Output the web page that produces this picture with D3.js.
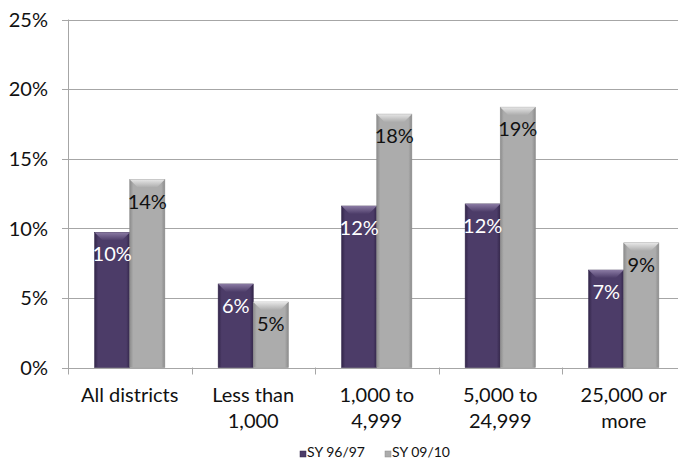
<!DOCTYPE html>
<html>
<head>
<meta charset="utf-8">
<script src="https://cdn.jsdelivr.net/npm/d3@7"></script>
<style>
  html, body { margin: 0; padding: 0; background: #fff; }
  svg { display: block; font-family: Lato, "DejaVu Sans", sans-serif; }
</style>
</head>
<body>
<div id="chart"></div>
<script>
// chart data
var categories = ['All districts', 'Less than\n1,000', '1,000 to\n4,999', '5,000 to\n24,999', '25,000 or\nmore'];
var seriesNames = ['SY 96/97', 'SY 09/10'];
var sy9697 = [9.7, 6.0, 11.6, 11.75, 7.0];
var sy0910 = [13.5, 4.7, 18.2, 18.7, 8.95];
var yTicks = [0, 5, 10, 15, 20, 25];

var width = 678;
var height = 464;

var svg = d3.select('#chart').append('svg')
    .attr('width', width)
    .attr('height', height);

// gradients for the bevelled bars
var defs = svg.append('defs');
var palettes = [
    {id: 'p', edge: '#33264a', mid: '#4c3c68', top: '#8a7aa3', label: '#ffffff'},
    {id: 'g', edge: '#8c8c8c', mid: '#acacac', top: '#e6e6e6', label: '#111111'}
];
palettes.forEach(function (p) {
    var side = defs.append('linearGradient').attr('id', 'side-' + p.id)
        .attr('x1', 0).attr('x2', 1).attr('y1', 0).attr('y2', 0);
    side.append('stop').attr('offset', '0%').attr('stop-color', p.edge);
    side.append('stop').attr('offset', '10%').attr('stop-color', p.mid);
    side.append('stop').attr('offset', '90%').attr('stop-color', p.mid);
    side.append('stop').attr('offset', '100%').attr('stop-color', p.edge);
    var top = defs.append('linearGradient').attr('id', 'top-' + p.id)
        .attr('x1', 0).attr('x2', 0).attr('y1', 0).attr('y2', 1);
    top.append('stop').attr('offset', '0%').attr('stop-color', p.top);
    top.append('stop').attr('offset', '100%').attr('stop-color', p.mid);
});

// scales
var x = d3.scaleBand()
    .domain(categories)
    .range([68, 685.5])
    .paddingInner(0)
    .paddingOuter(0);

var inner = d3.scaleBand()
    .domain(seriesNames)
    .range([0, x.bandwidth()])
    .paddingInner(0)
    .paddingOuter(0.76);

var y = d3.scaleLinear()
    .domain([0, 25])
    .range([367.5, 19.5]);

// gridlines
svg.append('g').selectAll('line')
    .data(yTicks)
    .enter()
    .append('line')
        .attr('x1', 62)
        .attr('x2', width)
        .attr('y1', (d) => Math.round(y(d)) + 0.5)
        .attr('y2', (d) => Math.round(y(d)) + 0.5)
        .attr('stroke', '#a6a6a6')
        .attr('stroke-width', 1);

// y axis labels
svg.append('g').selectAll('text')
    .data(yTicks)
    .enter()
    .append('text')
        .attr('x', 48)
        .attr('y', (d) => y(d))
        .attr('dy', '0.36em')
        .attr('text-anchor', 'end')
        .attr('font-size', '20px')
        .attr('fill', '#111')
        .text((d) => d + '%');

// y axis line
svg.append('line')
    .attr('x1', 68.5).attr('x2', 68.5)
    .attr('y1', y(25)).attr('y2', y(0) + 7)
    .attr('stroke', '#a6a6a6');

// category tick marks
svg.append('g').selectAll('line')
    .data(categories.slice(1))
    .enter()
    .append('line')
        .attr('x1', (d) => Math.round(x(d)) + 0.5)
        .attr('x2', (d) => Math.round(x(d)) + 0.5)
        .attr('y1', y(0))
        .attr('y2', y(0) + 7)
        .attr('stroke', '#a6a6a6');

// category labels
var catLabels = svg.append('g').selectAll('text')
    .data(categories)
    .enter()
    .append('text')
        .attr('x', (d) => x(d) + x.bandwidth() / 2)
        .attr('y', 402)
        .attr('text-anchor', 'middle')
        .attr('font-size', '20px')
        .attr('fill', '#111');
catLabels.each(function (d) {
    var lines = d.split('\n');
    var t = d3.select(this);
    lines.forEach(function (line, i) {
        t.append('tspan')
            .attr('x', x(d) + x.bandwidth() / 2)
            .attr('dy', i === 0 ? 0 : 26)
            .text(line);
    });
});

// bars, then value labels on top of all bars
var series = [sy9697, sy0910];
var bevel = 8;
var rowsFor = (si) => categories.map((c, i) => ({cat: c, value: series[si][i], s: si}));
var barLayer = svg.append('g');
var labelLayer = svg.append('g');

series.forEach(function (values, si) {
    var pal = palettes[si];
    var bar = barLayer.append('g').selectAll('g')
        .data(rowsFor(si))
        .enter()
        .append('g');

    bar.append('rect')
        .attr('x', (d) => x(d.cat) + inner(seriesNames[si]))
        .attr('y', (d) => y(d.value))
        .attr('width', inner.bandwidth())
        .attr('height', (d) => y(0) - y(d.value))
        .attr('fill', 'url(#side-' + pal.id + ')')
        .attr('stroke', pal.edge)
        .attr('stroke-width', 0.6);

    bar.append('polygon')
        .attr('points', function (d) {
            var x0 = x(d.cat) + inner(seriesNames[si]);
            var x1 = x0 + inner.bandwidth();
            var y0 = y(d.value);
            return [[x0, y0], [x1, y0], [x1 - bevel, y0 + bevel], [x0 + bevel, y0 + bevel]]
                .map((p) => p.join(',')).join(' ');
        })
        .attr('fill', 'url(#top-' + pal.id + ')');

    labelLayer.append('g').selectAll('text')
        .data(rowsFor(si))
        .enter()
        .append('text')
            .attr('x', (d) => x(d.cat) + inner(seriesNames[si]) + inner.bandwidth() / 2)
            .attr('y', (d) => y(d.value) + 29)
            .attr('text-anchor', 'middle')
            .attr('font-size', '20px')
            .attr('fill', pal.label)
            .text((d) => Math.round(d.value) + '%');
});

// legend
var legendX = [300, 385];
var legend = svg.append('g').selectAll('g')
    .data(seriesNames)
    .enter()
    .append('g')
        .attr('transform', (d, i) => `translate(${legendX[i]}, 0)`);
legend.append('rect')
    .attr('x', 0)
    .attr('y', 451)
    .attr('width', 6)
    .attr('height', 6)
    .attr('fill', (d, i) => palettes[i].mid)
    .attr('stroke', (d, i) => palettes[i].edge)
    .attr('stroke-width', 0.5);
legend.append('text')
    .attr('x', 7)
    .attr('y', 457)
    .attr('font-size', '14px')
    .attr('fill', '#111')
    .text((d) => d);
</script>
</body>
</html>
